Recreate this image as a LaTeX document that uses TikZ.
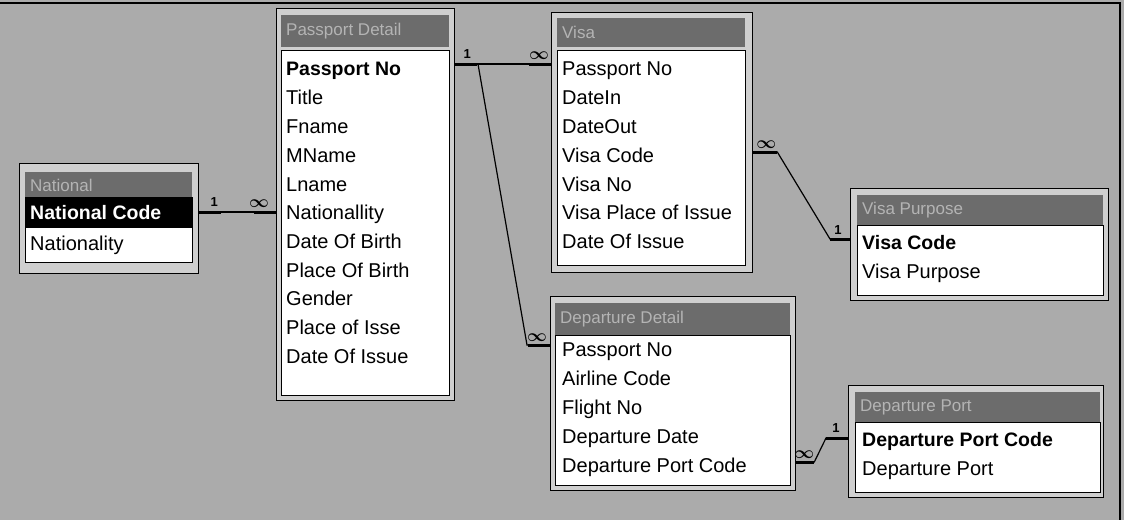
\documentclass[tikz,border=0pt]{standalone}
\usepackage{amsmath}
\usepackage{fontspec}
\setmainfont{Liberation Sans}
\definecolor{bggray}{HTML}{ABABAB}
\definecolor{framegray}{HTML}{CFCFCF}
\definecolor{titlegray}{HTML}{6C6C6C}
\definecolor{titletext}{HTML}{B4B4B4}
\tikzset{
  frame/.style={draw=black, line width=1.3pt, fill=framegray, anchor=north west, inner sep=0pt},
  titlebar/.style={fill=titlegray, anchor=north west, inner sep=0pt},
  ttext/.style={anchor=west, inner sep=0pt, text=titletext, font=\fontsize{17}{17}\selectfont},
  body/.style={fill=white, draw=black, line width=0.8pt, anchor=north west, inner sep=0pt},
  row/.style={anchor=west, inner sep=0pt, text height=14pt, text depth=4pt, font=\fontsize{20}{20}\selectfont},
  keyrow/.style={row, font=\fontsize{19.5}{20}\selectfont\bfseries},
  rel/.style={line width=1.2pt},
  stub/.style={line width=3pt},
  card/.style={inner sep=0pt, font=\fontsize{13}{13}\selectfont\bfseries},
  inf/.style={inner sep=0pt, font=\fontsize{16}{16}\selectfont},
}
\begin{document}
\begin{tikzpicture}[x=1pt,y=-1pt]
\useasboundingbox (0,0) rectangle (1124,520);
\fill[bggray] (0,0) rectangle (1124,520);
\draw[line width=2pt] (0,3) -- (1120,3) -- (1120,520);

% ---------- National ----------
\node[frame, minimum width=179pt, minimum height=110pt] (natF) at (19,163) {};
\node[titlebar, minimum width=167pt, minimum height=25pt] (natT) at (25,172) {};
\node[ttext] (natTt) at (30,185) {National};
\node[body, minimum width=167pt, minimum height=65pt] (natB) at (25,197) {};
\node[fill=black, anchor=north west, inner sep=0pt, minimum width=166pt, minimum height=30pt] (natH) at (25.5,198) {};
\node[keyrow, text=white] (nat1) at (30,214) {National Code};
\node[row] (nat2) at (30,245) {Nationality};

% ---------- Passport Detail ----------
\node[frame, minimum width=178pt, minimum height=392pt] (pdF) at (276,8) {};
\node[titlebar, minimum width=168pt, minimum height=32pt] (pdT) at (281,15) {};
\node[ttext] (pdTt) at (286,31) {Passport Detail};
\node[body, minimum width=168pt, minimum height=345pt] (pdB) at (281,50) {};
\node[keyrow] (pd1) at (286,70) {Passport No};
\node[row] (pd2) at (286,99) {Title};
\node[row] (pd3) at (286,128) {Fname};
\node[row] (pd4) at (286,157) {MName};
\node[row] (pd5) at (286,186) {Lname};
\node[row] (pd6) at (286,214) {Nationallity};
\node[row] (pd7) at (286,243) {Date Of Birth};
\node[row] (pd8) at (286,272) {Place Of Birth};
\node[row] (pd9) at (286,300) {Gender};
\node[row] (pd10) at (286,329) {Place of Isse};
\node[row] (pd11) at (286,358) {Date Of Issue};

% ---------- Visa ----------
\node[frame, minimum width=201pt, minimum height=260pt] (vF) at (551,12) {};
\node[titlebar, minimum width=188pt, minimum height=29pt] (vT) at (557,18) {};
\node[ttext] (vTt) at (562,32) {Visa};
\node[body, minimum width=188pt, minimum height=215pt] (vB) at (557,50) {};
\node[row] (v1) at (562,70) {Passport No};
\node[row] (v2) at (562,99) {DateIn};
\node[row] (v3) at (562,128) {DateOut};
\node[row] (v4) at (562,157) {Visa Code};
\node[row] (v5) at (562,186) {Visa No};
\node[row] (v6) at (562,214) {Visa Place of Issue};
\node[row] (v7) at (562,243) {Date Of Issue};

% ---------- Visa Purpose ----------
\node[frame, minimum width=258pt, minimum height=112pt] (vpF) at (850,188) {};
\node[titlebar, minimum width=246pt, minimum height=30pt] (vpT) at (857,195) {};
\node[ttext] (vpTt) at (862,210) {Visa Purpose};
\node[body, minimum width=246pt, minimum height=70pt] (vpB) at (857,225) {};
\node[keyrow] (vp1) at (862,244) {Visa Code};
\node[row] (vp2) at (862,273) {Visa Purpose};

% ---------- Departure Detail ----------
\node[frame, minimum width=245pt, minimum height=194pt] (ddF) at (550,296) {};
\node[titlebar, minimum width=235pt, minimum height=32pt] (ddT) at (555,303) {};
\node[ttext] (ddTt) at (560,319) {Departure Detail};
\node[body, minimum width=235pt, minimum height=150pt] (ddB) at (555,335) {};
\node[row] (dd1) at (562,351) {Passport No};
\node[row] (dd2) at (562,380) {Airline Code};
\node[row] (dd3) at (562,409) {Flight No};
\node[row] (dd4) at (562,438) {Departure Date};
\node[row] (dd5) at (562,467) {Departure Port Code};

% ---------- Departure Port ----------
\node[frame, minimum width=255pt, minimum height=112pt] (dpF) at (848,385) {};
\node[titlebar, minimum width=245pt, minimum height=30pt] (dpT) at (855,392) {};
\node[ttext] (dpTt) at (860,407) {Departure Port};
\node[body, minimum width=245pt, minimum height=70pt] (dpB) at (855,422) {};
\node[keyrow] (dp1) at (862,441) {Departure Port Code};
\node[row] (dp2) at (862,470) {Departure Port};

% ---------- Relationships ----------
% National -> Passport Detail
\coordinate (r1a) at (natF.east |- 0,212);
\coordinate (r1b) at (pdF.west |- 0,212);
\draw[rel] (r1a) -- (r1b);
\draw[stub] (r1a) -- ++(22,0);
\draw[stub] (r1b) -- ++(-22,0);
\node[card] (r1c1) at ([xshift=15pt,yshift=10pt]r1a) {1};
\node[inf] (r1c2) at ([xshift=-17pt,yshift=8pt]r1b) {$\boldsymbol{\infty}$};

% Passport Detail -> Visa
\coordinate (r2a) at (pdF.east |- 0,64);
\coordinate (r2b) at (vF.west |- 0,64);
\draw[rel] (r2a) -- (r2b);
\draw[stub] (r2a) -- ++(22,0);
\draw[stub] (r2b) -- ++(-22,0);
\node[card] (r2c1) at ([xshift=12pt,yshift=10pt]r2a) {1};
\node[inf] (r2c2) at ([xshift=-12pt,yshift=8pt]r2b) {$\boldsymbol{\infty}$};

% Passport Detail -> Departure Detail
\coordinate (r3a) at (478,64);
\coordinate (r3m) at (527,345);
\coordinate (r3b) at (ddF.west |- r3m);
\draw[rel] (r3a) -- (r3m) -- (r3b);
\draw[stub] (r3b) -- ++(-22,0);
\node[inf] (r3c2) at ([xshift=-13pt,yshift=7pt]r3b) {$\boldsymbol{\infty}$};

% Visa -> Visa Purpose
\coordinate (r4a) at (vF.east |- 0,152);
\coordinate (r4b) at (vpF.west |- 0,239);
\draw[rel] (r4a) -- ++(24,0) -- ([xshift=-20pt]r4b) -- (r4b);
\draw[stub] (r4a) -- ++(24,0);
\draw[stub] (r4b) -- ++(-20,0);
\node[inf] (r4c1) at ([xshift=13pt,yshift=7pt]r4a) {$\boldsymbol{\infty}$};
\node[card] (r4c2) at ([xshift=-12pt,yshift=9pt]r4b) {1};

% Departure Detail -> Departure Port
\coordinate (r5a) at (ddF.east |- 0,462);
\coordinate (r5b) at (dpF.west |- 0,438);
\draw[rel] (r5a) -- ++(18,0) -- ([xshift=-22pt]r5b) -- (r5b);
\draw[stub] (r5a) -- ++(18,0);
\draw[stub] (r5b) -- ++(-22,0);
\node[inf] (r5c1) at ([xshift=8pt,yshift=7pt]r5a) {$\boldsymbol{\infty}$};
\node[card] (r5c2) at ([xshift=-12pt,yshift=10pt]r5b) {1};
\end{tikzpicture}
\end{document}
